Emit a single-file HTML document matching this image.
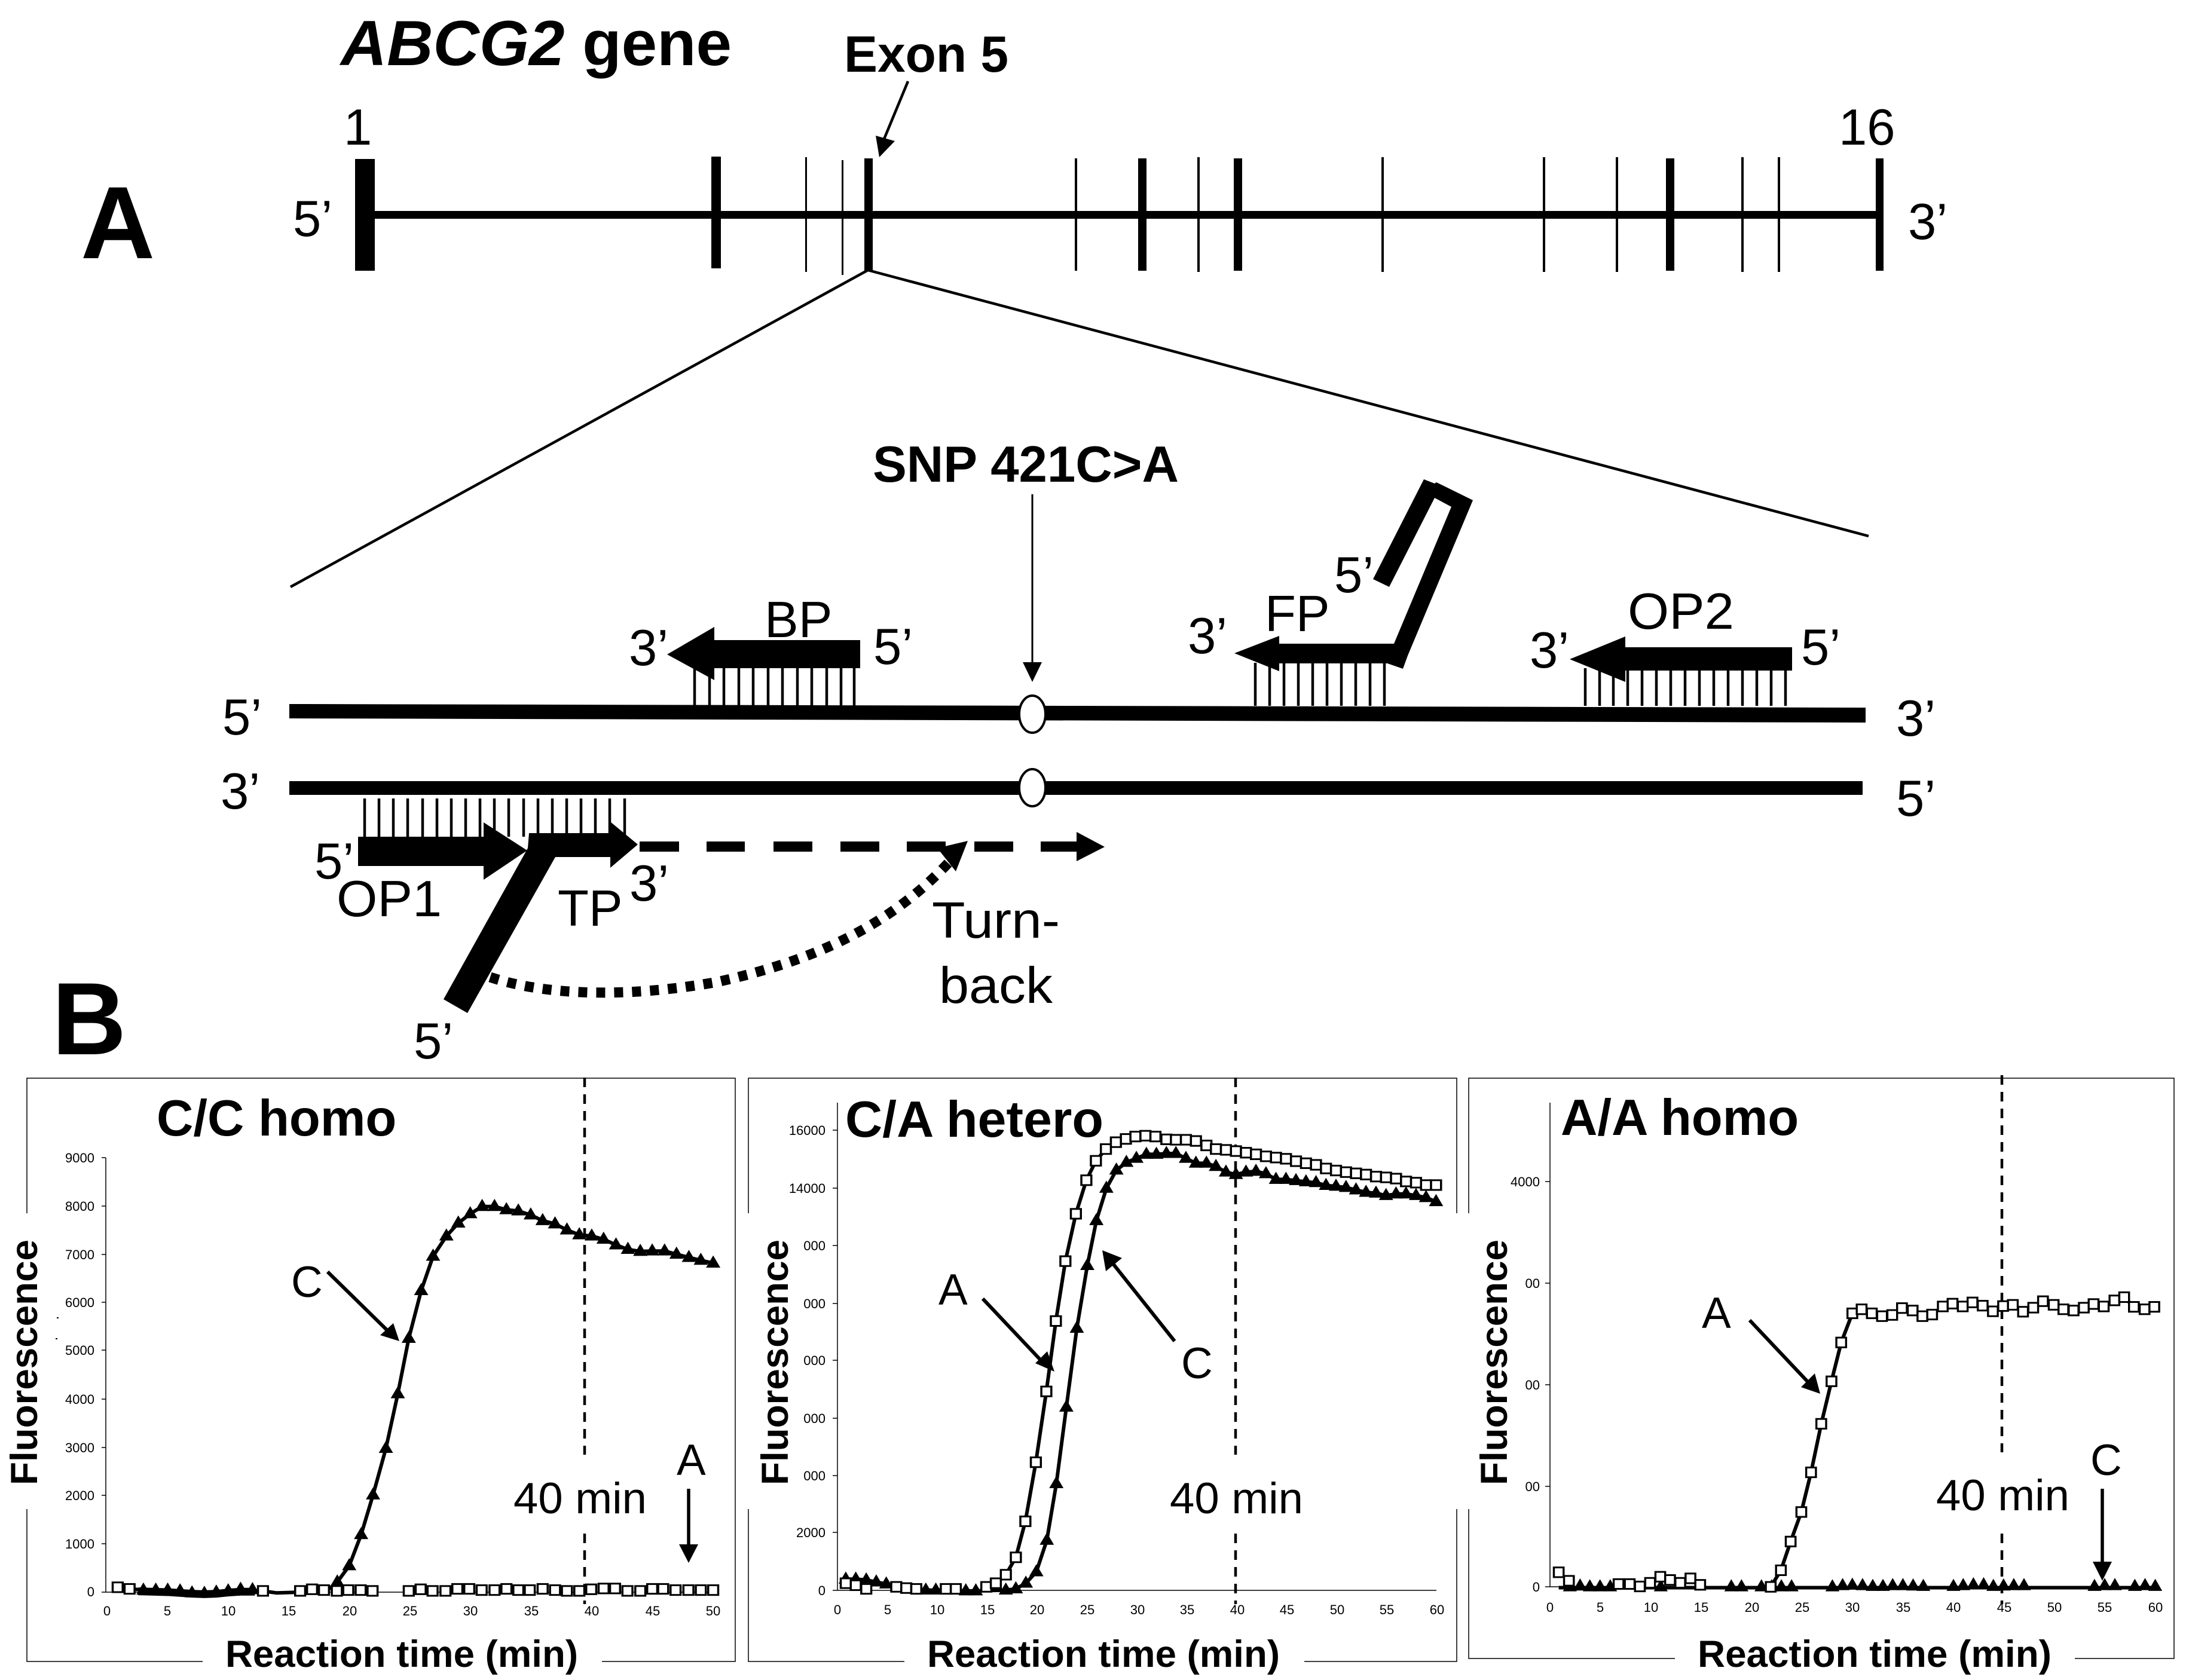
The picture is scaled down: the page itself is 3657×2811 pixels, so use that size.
<!DOCTYPE html>
<html>
<head>
<meta charset="utf-8">
<title>ABCG2 gene diagram</title>
<style>
html,body{margin:0;padding:0;background:#fff}
svg{display:block}
text{font-family:"Liberation Sans",Arial,sans-serif;fill:#000}
.b{font-weight:bold}
.t{font-size:22px}
.e{font-size:22px;text-anchor:end}
.m{font-size:22px;text-anchor:middle}
.l{font-size:85px}
.tt{font-size:85px;font-weight:bold}
.p{font-size:73px}
.ax{font-size:63px;font-weight:bold}
.f{stroke:#000;stroke-width:1.5;fill:none}
.ds{stroke:#000;stroke-width:4.5;stroke-dasharray:16 12;fill:none}
.c{stroke:#000;stroke-width:4.5}
.cv{fill:none;stroke:#000;stroke-width:6;vector-effect:non-scaling-stroke;stroke-linejoin:round}
.sq{fill:none;stroke:none;marker-start:url(#ms);marker-mid:url(#ms);marker-end:url(#ms)}
.tr{fill:none;stroke:none;marker-start:url(#mt);marker-mid:url(#mt);marker-end:url(#mt)}
.a{stroke:#000;stroke-width:1.5}
</style>
</head>
<body>
<svg xmlns="http://www.w3.org/2000/svg" width="3657" height="2811" viewBox="0 0 3657 2811">
<defs>
<marker id="ms" markerUnits="userSpaceOnUse" markerWidth="44" markerHeight="44" viewBox="-22 -22 44 44" refX="0" refY="0" overflow="visible">
<rect x="-10.5" y="-12" width="21" height="24" fill="#fff" stroke="#000" stroke-width="4.4"/>
</marker>
<marker id="mt" markerUnits="userSpaceOnUse" markerWidth="44" markerHeight="44" viewBox="-22 -22 44 44" refX="0" refY="0" overflow="visible">
<polygon points="0,-19 15,11 -15,11" fill="#000"/>
</marker>
</defs>
<rect width="3657" height="2811" fill="#fff"/>

<!-- Panel A top: gene -->
<text x="570" y="109" font-size="107" class="b"><tspan font-style="italic">ABCG2</tspan> gene</text>
<text x="1412" y="120" class="tt" textLength="275" lengthAdjust="spacingAndGlyphs">Exon 5</text>
<text x="135" y="432" font-size="172" class="b">A</text>
<text x="87" y="1764" font-size="172" class="b">B</text>
<text x="575" y="242" class="l">1</text>
<text x="3076" y="242" class="l">16</text>
<text x="490" y="395" class="l">5’</text>
<text x="3192" y="400" class="l">3’</text>

<rect x="594" y="353" width="2550" height="13"/>
<rect x="594" y="266" width="33" height="187"/>
<rect x="1190" y="262" width="16" height="187"/>
<rect x="1347" y="263" width="3" height="192"/>
<rect x="1408" y="268" width="3" height="192"/>
<rect x="1446" y="265" width="14" height="188"/>
<rect x="1798" y="265" width="4" height="188"/>
<rect x="1904" y="265" width="14" height="188"/>
<rect x="2003" y="263" width="4" height="192"/>
<rect x="2064" y="265" width="14" height="188"/>
<rect x="2311" y="263" width="4" height="192"/>
<rect x="2581" y="263" width="4" height="192"/>
<rect x="2703" y="263" width="4" height="192"/>
<rect x="2787" y="265" width="14" height="188"/>
<rect x="2913" y="263" width="4" height="192"/>
<rect x="2974" y="263" width="4" height="192"/>
<rect x="3138" y="265" width="13" height="188"/>

<line x1="1519" y1="136" x2="1478" y2="235" stroke="#000" stroke-width="4.5"/>
<polygon points="1471,263 1465,227 1497,236"/>

<line x1="1452" y1="452" x2="486" y2="982" stroke="#000" stroke-width="4.5"/>
<line x1="1452" y1="452" x2="3126" y2="897" stroke="#000" stroke-width="4.5"/>

<!-- SNP -->
<text x="1460" y="806" class="tt" textLength="512" lengthAdjust="spacingAndGlyphs">SNP 421C&gt;A</text>
<line x1="1727" y1="827" x2="1727" y2="1110" stroke="#000" stroke-width="3"/>
<polygon points="1711,1108 1743,1108 1727,1141"/>

<!-- strands -->
<polygon points="484,1178 3121,1184 3121,1209 484,1202"/>
<rect x="484" y="1307" width="2632" height="23"/>
<ellipse cx="1727" cy="1195" rx="22" ry="31" fill="#fff" stroke="#000" stroke-width="4"/>
<ellipse cx="1727" cy="1318" rx="22" ry="31" fill="#fff" stroke="#000" stroke-width="4"/>

<text x="372" y="1229" class="l">5’</text>
<text x="369" y="1353" class="l">3’</text>
<text x="3172" y="1231" class="l">3’</text>
<text x="3172" y="1365" class="l">5’</text>

<!-- BP -->
<g class="c">
<line x1="1162" y1="1118" x2="1162" y2="1181"/><line x1="1187" y1="1118" x2="1187" y2="1181"/><line x1="1211" y1="1118" x2="1211" y2="1181"/><line x1="1236" y1="1118" x2="1236" y2="1181"/><line x1="1260" y1="1118" x2="1260" y2="1181"/><line x1="1285" y1="1118" x2="1285" y2="1181"/><line x1="1309" y1="1118" x2="1309" y2="1181"/><line x1="1334" y1="1118" x2="1334" y2="1181"/><line x1="1358" y1="1118" x2="1358" y2="1181"/><line x1="1383" y1="1118" x2="1383" y2="1181"/><line x1="1407" y1="1118" x2="1407" y2="1181"/><line x1="1429" y1="1118" x2="1429" y2="1181"/>
</g>
<polygon points="1116,1095 1195,1049 1195,1071 1439,1071 1439,1118 1195,1118 1195,1138"/>
<text x="1279" y="1066" class="l">BP</text>
<text x="1052" y="1113" class="l">3’</text>
<text x="1461" y="1111" class="l">5’</text>

<!-- FP -->
<g class="c">
<line x1="2100" y1="1109" x2="2100" y2="1181"/><line x1="2124" y1="1109" x2="2124" y2="1181"/><line x1="2148" y1="1109" x2="2148" y2="1181"/><line x1="2172" y1="1109" x2="2172" y2="1181"/><line x1="2196" y1="1109" x2="2196" y2="1181"/><line x1="2220" y1="1109" x2="2220" y2="1181"/><line x1="2244" y1="1109" x2="2244" y2="1181"/><line x1="2268" y1="1109" x2="2268" y2="1181"/><line x1="2292" y1="1109" x2="2292" y2="1181"/><line x1="2316" y1="1109" x2="2316" y2="1181"/>
</g>
<polygon points="2065,1093 2140,1064 2140,1077 2340,1077 2340,1110 2140,1110 2140,1123"/>
<polygon points="2382,802 2400,809 2403,807 2464,837 2355,1097 2347,1119 2321,1110 2332,1077 2428,848 2400,833 2324,982 2297,969"/>
<text x="2116" y="1056" class="l">FP</text>
<text x="1987" y="1093" class="l">3’</text>
<text x="2232" y="991" class="l">5’</text>

<!-- OP2 -->
<g class="c">
<line x1="2652" y1="1118" x2="2652" y2="1181"/><line x1="2676" y1="1118" x2="2676" y2="1181"/><line x1="2699" y1="1118" x2="2699" y2="1181"/><line x1="2723" y1="1118" x2="2723" y2="1181"/><line x1="2747" y1="1118" x2="2747" y2="1181"/><line x1="2771" y1="1118" x2="2771" y2="1181"/><line x1="2795" y1="1118" x2="2795" y2="1181"/><line x1="2819" y1="1118" x2="2819" y2="1181"/><line x1="2843" y1="1118" x2="2843" y2="1181"/><line x1="2867" y1="1118" x2="2867" y2="1181"/><line x1="2891" y1="1118" x2="2891" y2="1181"/><line x1="2915" y1="1118" x2="2915" y2="1181"/><line x1="2939" y1="1118" x2="2939" y2="1181"/><line x1="2963" y1="1118" x2="2963" y2="1181"/><line x1="2987" y1="1118" x2="2987" y2="1181"/>
</g>
<polygon points="2626,1103 2719,1065 2719,1083 2998,1083 2998,1122 2719,1122 2719,1141"/>
<text x="2723" y="1052" class="l" textLength="178" lengthAdjust="spacingAndGlyphs">OP2</text>
<text x="2559" y="1117" class="l">3’</text>
<text x="3013" y="1112" class="l">5’</text>

<!-- lower comb -->
<g class="c">
<line x1="610" y1="1336" x2="610" y2="1400"/><line x1="634" y1="1336" x2="634" y2="1400"/><line x1="658" y1="1336" x2="658" y2="1400"/><line x1="682" y1="1336" x2="682" y2="1400"/><line x1="707" y1="1336" x2="707" y2="1400"/><line x1="731" y1="1336" x2="731" y2="1400"/><line x1="755" y1="1336" x2="755" y2="1400"/><line x1="779" y1="1336" x2="779" y2="1400"/><line x1="803" y1="1336" x2="803" y2="1400"/><line x1="827" y1="1336" x2="827" y2="1400"/><line x1="851" y1="1336" x2="851" y2="1400"/><line x1="876" y1="1336" x2="876" y2="1400"/><line x1="900" y1="1336" x2="900" y2="1400"/><line x1="924" y1="1336" x2="924" y2="1400"/><line x1="948" y1="1336" x2="948" y2="1400"/><line x1="972" y1="1336" x2="972" y2="1400"/><line x1="996" y1="1336" x2="996" y2="1400"/><line x1="1020" y1="1336" x2="1020" y2="1400"/><line x1="1045" y1="1336" x2="1045" y2="1400"/>
</g>
<polygon points="599,1400 809,1400 809,1376 882,1423 809,1472 809,1449 599,1449"/>
<polygon points="885,1394 1021,1394 1021,1375 1067,1413 1021,1452 1021,1434 929,1434 782,1695 742,1672 883,1419"/>
<g>
<rect x="1070" y="1408" width="66" height="17"/><rect x="1182" y="1408" width="64" height="17"/><rect x="1294" y="1408" width="65" height="17"/><rect x="1406" y="1408" width="65" height="17"/><rect x="1517" y="1408" width="65" height="17"/><rect x="1630" y="1408" width="65" height="17"/><rect x="1741" y="1408" width="60" height="17"/>
</g>
<polygon points="1801,1392 1848,1417 1801,1441"/>
<path d="M820 1635 C920 1668 1060 1668 1200 1643 C1340 1612 1480 1560 1590 1440" fill="none" stroke="#000" stroke-width="17" stroke-dasharray="15 15"/>
<polygon points="1619,1407 1568,1419 1599,1458"/>
<text x="526" y="1470" class="l">5’</text>
<text x="563" y="1533" class="l" textLength="176" lengthAdjust="spacingAndGlyphs">OP1</text>
<text x="933" y="1549" class="l">TP</text>
<text x="1053" y="1507" class="l">3’</text>
<text x="1559" y="1569" class="l" textLength="214" lengthAdjust="spacingAndGlyphs">Turn-</text>
<text x="1571" y="1678" class="l" textLength="190" lengthAdjust="spacingAndGlyphs">back</text>
<text x="692" y="1771" class="l">5’</text>

<!-- PANEL 1 frame -->
<path class="f" d="M45 2030V1804H1230V2780H1007M339 2780H45V2525"/>
<text class="tt" x="262" y="1900">C/C homo</text>
<text class="ax" transform="translate(62,2485) rotate(-90)" textLength="411" lengthAdjust="spacingAndGlyphs">Fluorescence</text>
<text class="ax" x="377" y="2789" textLength="590" lengthAdjust="spacingAndGlyphs">Reaction time (min)</text>
<rect x="95" y="2204" width="3" height="2"/><rect x="93" y="2239" width="3" height="2"/>
<path class="a" fill="none" d="M177 1937V2664H1193M170 1937H177M170 2018H177M170 2099H177M170 2179H177M170 2259H177M170 2341H177M170 2422H177M170 2502H177M170 2583H177M170 2664H177"/>
<g class="e">
<text x="158" y="1945">9000</text><text x="158" y="2026">8000</text><text x="158" y="2107">7000</text><text x="158" y="2187">6000</text><text x="158" y="2267">5000</text><text x="158" y="2349">4000</text><text x="158" y="2430">3000</text><text x="158" y="2510">2000</text><text x="158" y="2591">1000</text><text x="158" y="2671">0</text>
</g>
<g class="m">
<text x="179" y="2703">0</text><text x="280" y="2703">5</text><text x="382" y="2703">10</text><text x="483" y="2703">15</text><text x="585" y="2703">20</text><text x="686" y="2703">25</text><text x="787" y="2703">30</text><text x="889" y="2703">35</text><text x="990" y="2703">40</text><text x="1092" y="2703">45</text><text x="1193" y="2703">50</text>
</g>
<line class="ds" x1="978" y1="1803" x2="978" y2="2434"/>
<line class="ds" x1="978" y1="2566" x2="978" y2="2684"/>
<g transform="translate(0,1750) scale(.797,.677)">
<polyline class="cv" points="250,1338 276,1342 301,1345 327,1348 352,1348 378,1349 403,1352 429,1353 454,1352 479,1349 505,1346 530,1346 556,1348 581,1352 607,1351 632,1350 657,1350 683,1350 708,1325 733,1285 758,1208 783,1110 810,995 835,860 858,723 884,605 909,520 937,470 962,438 987,415 1012,397 1038,397 1063,405 1088,408 1114,418 1139,432 1165,440 1190,455 1216,467 1242,470 1267,478 1293,492 1318,503 1344,508 1369,507 1395,507 1420,515 1446,523 1471,530 1497,537"/>
<polyline class="cv" style="stroke-width:13" points="290,1348 352,1350 403,1354 429,1355 454,1354 479,1351 505,1349 535,1349"/>
<polyline class="tr" points="301,1345 327,1345 352,1345 378,1347 403,1352 429,1353 454,1350 479,1347 505,1343 530,1344 708,1325 733,1285 758,1208 783,1110 810,995 835,860 858,723 884,605 909,520 937,470 962,438 987,415 1012,397 1038,397 1063,405 1088,408 1114,418 1139,432 1165,440 1190,455 1216,467 1242,470 1267,478 1293,492 1318,503 1344,508 1369,507 1395,507 1420,515 1446,523 1471,530 1497,537"/>
<polyline class="sq" points="247,1338 272,1342 552,1347 630,1347 655,1343 680,1345 707,1347 731,1345 757,1345 782,1347 858,1347 883,1343 908,1347 935,1347 960,1342 985,1342 1011,1345 1038,1345 1063,1342 1088,1345 1112,1345 1139,1342 1165,1345 1190,1347 1216,1347 1241,1343 1267,1341 1291,1341 1317,1347 1344,1347 1369,1342 1392,1342 1418,1345 1445,1345 1471,1345 1497,1345"/>
</g>
<text class="p" x="487" y="2170">C</text>
<line x1="548" y1="2128" x2="650" y2="2228" stroke="#000" stroke-width="6"/>
<polygon points="668,2244 658,2214 636,2234"/>
<text class="p" x="1132" y="2468">A</text>
<line x1="1152" y1="2491" x2="1152" y2="2590" stroke="#000" stroke-width="5.5"/>
<polygon points="1136,2584 1168,2584 1152,2615"/>
<text class="p" x="859" y="2532" textLength="223" lengthAdjust="spacingAndGlyphs">40 min</text>

<!-- PANEL 2 -->
<path class="f" d="M1252 2030V1804H2437V2030M2437 2525V2780H2182M1513 2780H1252V2525"/>
<text class="tt" x="1414" y="1902" textLength="432" lengthAdjust="spacingAndGlyphs">C/A hetero</text>
<text class="ax" transform="translate(1318,2485) rotate(-90)" textLength="411" lengthAdjust="spacingAndGlyphs">Fluorescence</text>
<text class="ax" x="1551" y="2789" textLength="590" lengthAdjust="spacingAndGlyphs">Reaction time (min)</text>
<path class="a" fill="none" d="M1401 1845V2661H2403M1393 1891H1401M1393 1988H1401M1393 2084H1401M1393 2181H1401M1393 2276H1401M1393 2373H1401M1393 2469H1401M1393 2564H1401M1393 2661H1401"/>
<g class="e">
<text x="1381" y="1899">16000</text><text x="1381" y="1996">14000</text><text x="1381" y="2092">000</text><text x="1381" y="2189">000</text><text x="1381" y="2284">000</text><text x="1381" y="2381">000</text><text x="1381" y="2477">000</text><text x="1381" y="2572">2000</text><text x="1381" y="2669">0</text>
</g>
<g class="m">
<text x="1401" y="2701">0</text><text x="1485" y="2701">5</text><text x="1568" y="2701">10</text><text x="1652" y="2701">15</text><text x="1735" y="2701">20</text><text x="1819" y="2701">25</text><text x="1903" y="2701">30</text><text x="1986" y="2701">35</text><text x="2070" y="2701">40</text><text x="2153" y="2701">45</text><text x="2237" y="2701">50</text><text x="2320" y="2701">55</text><text x="2404" y="2701">60</text>
</g>
<line class="ds" x1="2067" y1="1803" x2="2067" y2="2434"/>
<line class="ds" x1="2067" y1="2566" x2="2067" y2="2684"/>
<g transform="translate(1230,1750) scale(.797,.677)">
<polyline class="cv" points="232,1318 253,1318 275,1320 296,1325 317,1330 338,1337 380,1342 400,1345 421,1345 484,1347 505,1347 568,1345 589,1342 610,1328 632,1300 654,1222 674,1082 695,893 717,698 739,543 758,432 779,352 800,307 821,288 842,278 863,268 884,268 905,266 925,266 946,278 967,290 989,290 1009,298 1030,312 1051,318 1072,312 1093,310 1114,316 1135,330 1156,330 1177,333 1198,336 1219,338 1240,345 1261,347 1282,350 1303,356 1324,362 1345,364 1366,370 1387,366 1408,366 1429,370 1450,375 1471,385"/>
<polyline class="tr" points="232,1318 253,1318 275,1320 296,1325 317,1330 400,1345 421,1345 484,1347 505,1347 568,1345 589,1342 610,1328 632,1300 654,1222 674,1082 695,893 717,698 739,543 758,432 779,352 800,307 821,288 842,278 863,268 884,268 905,266 925,266 946,278 967,290 989,290 1009,298 1030,312 1051,318 1072,312 1093,310 1114,316 1135,330 1156,330 1177,333 1198,336 1219,338 1240,345 1261,347 1282,350 1303,356 1324,362 1345,364 1366,370 1387,366 1408,366 1429,370 1450,375 1471,385"/>
<polyline class="cv" points="527,1337 547,1328 568,1307 589,1264 609,1175 631,1029 653,854 673,680 693,532 715,415 737,332 757,284 778,255 799,238 820,230 840,224 861,222 882,224 905,231 925,232 946,232 967,235 989,246 1009,255 1030,257 1051,260 1072,264 1093,268 1114,273 1135,276 1156,279 1177,285 1198,290 1219,294 1240,303 1261,308 1282,312 1303,315 1324,318 1345,323 1366,325 1387,328 1408,335 1429,338 1450,344 1471,344"/>
<polyline class="sq" points="232,1328 253,1333 275,1342 338,1337 359,1340 380,1342 442,1342 463,1342 527,1337 547,1328 568,1307 589,1264 609,1175 631,1029 653,854 673,680 693,532 715,415 737,332 757,284 778,255 799,238 820,230 840,224 861,222 882,224 905,231 925,232 946,232 967,235 989,246 1009,255 1030,257 1051,260 1072,264 1093,268 1114,273 1135,276 1156,279 1177,285 1198,290 1219,294 1240,303 1261,308 1282,312 1303,315 1324,318 1345,323 1366,325 1387,328 1408,335 1429,338 1450,344 1471,344"/>
</g>
<text class="p" x="1570" y="2183">A</text>
<line x1="1644" y1="2173" x2="1745" y2="2280" stroke="#000" stroke-width="6"/>
<polygon points="1764,2295 1752,2261 1732,2281"/>
<text class="p" x="1976" y="2306">C</text>
<line x1="1965" y1="2244" x2="1860" y2="2112" stroke="#000" stroke-width="6"/>
<polygon points="1844,2092 1877,2105 1850,2127"/>
<text class="p" x="1957" y="2532" textLength="223" lengthAdjust="spacingAndGlyphs">40 min</text>

<!-- PANEL 3 -->
<path class="f" d="M2457 2030V1804H3637V2775H3471M2802 2775H2457V2525"/>
<text class="tt" x="2611" y="1899">A/A homo</text>
<text class="ax" transform="translate(2521,2485) rotate(-90)" textLength="411" lengthAdjust="spacingAndGlyphs">Fluorescence</text>
<text class="ax" x="2840" y="2789" textLength="592" lengthAdjust="spacingAndGlyphs">Reaction time (min)</text>
<path class="a" fill="none" d="M2593 1845V2655H3604M2585 1977H2593M2585 2147H2593M2585 2317H2593M2585 2487H2593M2585 2655H2593"/>
<g class="e">
<text x="2576" y="1985">4000</text><text x="2576" y="2155">00</text><text x="2576" y="2325">00</text><text x="2576" y="2495">00</text><text x="2576" y="2663">0</text>
</g>
<g class="m">
<text x="2593" y="2697">0</text><text x="2677" y="2697">5</text><text x="2762" y="2697">10</text><text x="2846" y="2697">15</text><text x="2931" y="2697">20</text><text x="3015" y="2697">25</text><text x="3099" y="2697">30</text><text x="3184" y="2697">35</text><text x="3268" y="2697">40</text><text x="3353" y="2697">45</text><text x="3437" y="2697">50</text><text x="3521" y="2697">55</text><text x="3606" y="2697">60</text>
</g>
<line class="ds" x1="3349" y1="1799" x2="3349" y2="2430"/>
<line class="ds" x1="3349" y1="2566" x2="3349" y2="2684"/>
<g transform="translate(2440,1750) scale(.776,.677)">
<polyline class="cv" points="216,1339 1500,1339"/>
<polyline class="tr" points="240,1337 262,1335 283,1337 305,1337 327,1337 436,1337 588,1337 610,1337 653,1337 675,1337 696,1337 718,1337 806,1337 828,1334 849,1333 871,1334 893,1336 915,1336 936,1334 958,1334 980,1335 1002,1336 1067,1336 1088,1334 1110,1332 1132,1332 1153,1336 1175,1335 1197,1334 1219,1334 1371,1336 1393,1334 1415,1334 1458,1336 1480,1334 1502,1336"/>
<polyline class="cv" points="673,1337 695,1296 716,1225 739,1152 760,1054 782,934 804,829 825,733 849,661 869,651 891,661 913,668 935,665 956,648 979,654 1000,668 1021,664 1044,644 1065,637 1087,644 1108,634 1130,642 1152,656 1174,643 1195,640 1217,657 1239,647 1260,631 1283,640 1304,651 1326,654 1348,647 1369,638 1391,644 1414,629 1435,621 1456,645 1479,651 1500,645"/>
<polyline class="sq" points="216,1301 238,1322 345,1330 369,1330 391,1336 413,1327 435,1312 456,1320 478,1327 500,1316 521,1332 673,1337 695,1296 716,1225 739,1152 760,1054 782,934 804,829 825,733 849,661 869,651 891,661 913,668 935,665 956,648 979,654 1000,668 1021,664 1044,644 1065,637 1087,644 1108,634 1130,642 1152,656 1174,643 1195,640 1217,657 1239,647 1260,631 1283,640 1304,651 1326,654 1348,647 1369,638 1391,644 1414,629 1435,621 1456,645 1479,651 1500,645"/>
</g>
<text class="p" x="2847" y="2222">A</text>
<line x1="2927" y1="2209" x2="3028" y2="2316" stroke="#000" stroke-width="6"/>
<polygon points="3045,2332 3036,2298 3013,2321"/>
<text class="p" x="3497" y="2468">C</text>
<line x1="3517" y1="2491" x2="3517" y2="2620" stroke="#000" stroke-width="5.5"/>
<polygon points="3501,2613 3533,2613 3517,2645"/>
<text class="p" x="3239" y="2527" textLength="223" lengthAdjust="spacingAndGlyphs">40 min</text>
</svg>
</body>
</html>
